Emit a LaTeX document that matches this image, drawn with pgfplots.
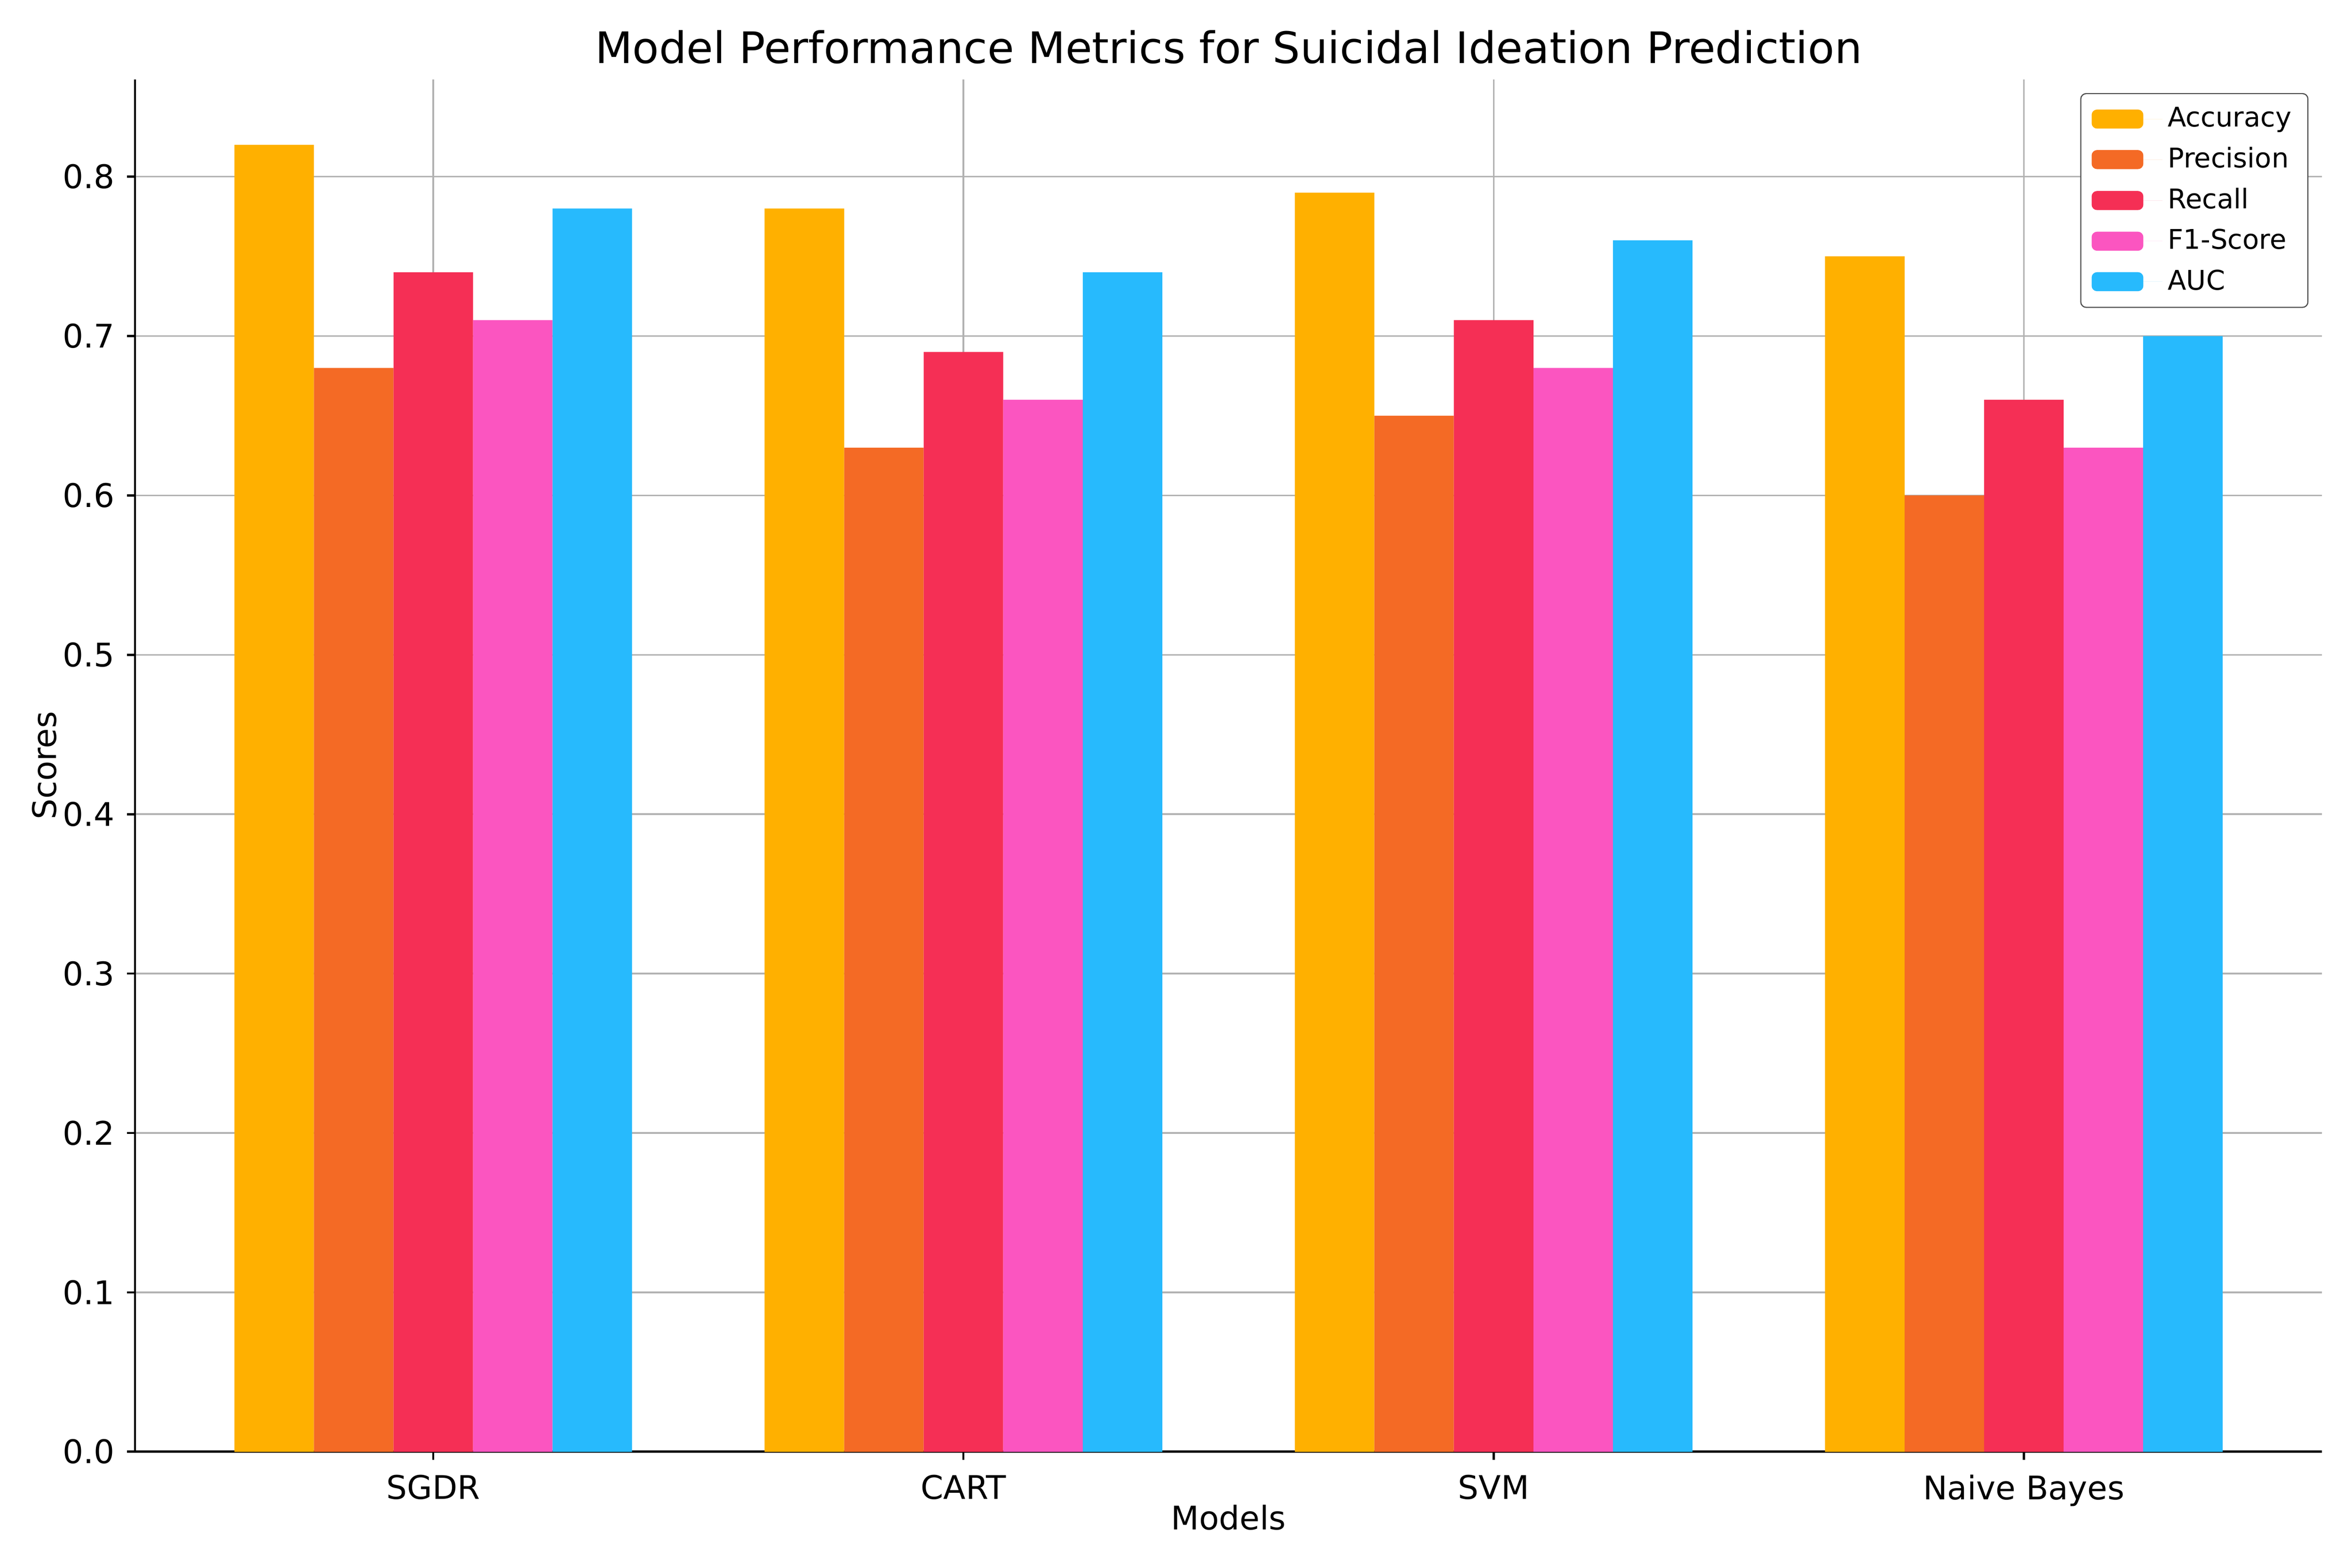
\documentclass[border=0pt]{standalone}
\usepackage{pgfplots}
\pgfplotsset{compat=1.18}
\usepackage{pgfplotstable}
\usepackage{fontspec}
\setmainfont{DejaVu Sans}
\definecolor{cAcc}{HTML}{FFB000}
\definecolor{cPre}{HTML}{F46A25}
\definecolor{cRec}{HTML}{F52F55}
\definecolor{cF1}{HTML}{FB55C0}
\definecolor{cAUC}{HTML}{27BAFD}

% model scores
\pgfplotstableread{
model acc  pre  rec  fone auc
SGDR  0.82 0.68 0.74 0.71 0.78
CART  0.78 0.63 0.69 0.66 0.74
SVM   0.79 0.65 0.71 0.68 0.76
NB    0.75 0.60 0.66 0.63 0.70
}\scores

\begin{document}
\begin{tikzpicture}
\path[use as bounding box] (-49.6bp,-42.6bp) rectangle (814.4bp,533.4bp);
\begin{axis}[
    at={(0,0)}, anchor=south west,
    scale only axis,
    width=803.4bp, height=504.2bp,
    xmin=-0.5625, xmax=3.5625,
    ymin=0, ymax=0.861,
    axis x line*=bottom, axis y line*=left,
    axis line style={line width=0.8pt, -},
    xtick={0,1,2,3},
    xticklabels={SGDR, CART, SVM, Naive Bayes},
    ytick={0,0.1,...,0.8},
    /pgf/number format/fixed,
    /pgf/number format/fixed zerofill,
    /pgf/number format/precision=1,
    /pgf/number format/assume math mode=true,
    tick align=outside,
    major tick length=3pt,
    tick style={black, line width=0.8pt},
    ticklabel style={font=\fontsize{12}{14}\selectfont},
    xticklabel style={yshift=-2pt},
    yticklabel style={xshift=-1pt},
    grid=major,
    major grid style={color=black!30, line width=0.6pt},
    title={Model Performance Metrics for Suicidal Ideation Prediction},
    title style={font=\fontsize{16}{19}\selectfont, at={(axis description cs:0.5,1)}, anchor=base},
    xlabel={Models},
    ylabel={Scores},
    xlabel style={font=\fontsize{12}{14}\selectfont, at={(axis description cs:0.5,-0.0569)}, anchor=base},
    ylabel style={font=\fontsize{12}{14}\selectfont, at={(axis description cs:-0.036,0.5)}, anchor=base},
    legend cell align=left,
    legend style={at={(axis description cs:1,1)}, anchor=north east, xshift=-5bp, yshift=-5bp,
        font=\fontsize{10}{12}\selectfont, draw=black!70, rounded corners=2pt,
        inner xsep=4pt, inner ysep=3pt, row sep=2pt},
    legend image code/.code={\fill[#1] (0bp,-3.5bp) rectangle (19bp,3.5bp); \path (0bp,0bp) -- (26bp,0bp);},
    every axis plot/.append style={ybar, bar width=0.15, bar shift=0pt, draw=none},
]
\addplot[fill=cAcc] table[x expr=\coordindex-0.3, y=acc] {\scores};
\addlegendentry{Accuracy}
\addplot[fill=cPre] table[x expr=\coordindex-0.15, y=pre] {\scores};
\addlegendentry{Precision}
\addplot[fill=cRec] table[x expr=\coordindex, y=rec] {\scores};
\addlegendentry{Recall}
\addplot[fill=cF1] table[x expr=\coordindex+0.15, y=fone] {\scores};
\addlegendentry{F1-Score}
\addplot[fill=cAUC] table[x expr=\coordindex+0.3, y=auc] {\scores};
\addlegendentry{AUC}
\end{axis}
\end{tikzpicture}
\end{document}
